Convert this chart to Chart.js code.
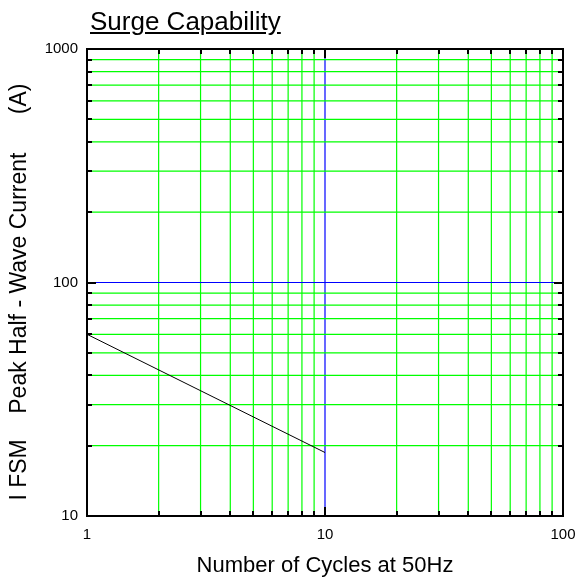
<!DOCTYPE html>
<html>
<head>
<meta charset="utf-8">
<script src="https://cdn.jsdelivr.net/npm/chart.js@4.4.1/dist/chart.umd.min.js"></script>
<style>
html, body { margin: 0; padding: 0; background: #fff; }
#wrap { position: relative; width: 581px; height: 581px; }
#title {
    position: absolute; left: 90px; top: 6px;
    font: 26px "Liberation Sans", Arial, sans-serif;
    text-decoration: underline; color: #000; white-space: nowrap;
}
</style>
</head>
<body>
<div id="wrap">
  <div id="title">Surge Capability</div>
  <canvas id="chart" width="581" height="581"></canvas>
</div>
<script>
// data
const cycles = [1, 10];
const surgeCurrent = [60, 18.7];

// tick positions and labels
const xTicks = [1, 2, 3, 4, 5, 6, 7, 8, 9, 10, 20, 30, 40, 50, 60, 70, 80, 90, 100];
const yTicks = [10, 20, 30, 40, 50, 60, 70, 80, 90, 100, 200, 300, 400, 500, 600, 700, 800, 900, 1000];
const xLabels = [1, 10, 100];
const yLabels = [10, 100, 1000];

const GREEN = '#00ff00';
const BLUE = '#0000ff';
const FONT = '"Liberation Sans", Arial, sans-serif';

// grid lines: green minor lines, blue at the middle decade
const gridPlugin = {
    id: 'grid',
    beforeDatasetsDraw(chart) {
        const ctx = chart.ctx;
        const a = chart.chartArea;
        const xs = chart.scales.x;
        const ys = chart.scales.y;
        ctx.save();
        ctx.lineWidth = 1.2;
        xTicks.forEach(v => {
            const px = xs.getPixelForValue(v);
            ctx.strokeStyle = v === 10 ? BLUE : GREEN;
            ctx.beginPath();
            ctx.moveTo(px, a.top);
            ctx.lineTo(px, a.bottom);
            ctx.stroke();
        });
        yTicks.forEach(v => {
            const py = ys.getPixelForValue(v);
            ctx.strokeStyle = v === 100 ? BLUE : GREEN;
            ctx.beginPath();
            ctx.moveTo(a.left, py);
            ctx.lineTo(a.right, py);
            ctx.stroke();
        });
        ctx.restore();
    }
};

// frame on all four sides with inward tick marks
const framePlugin = {
    id: 'frame',
    afterDraw(chart) {
        const ctx = chart.ctx;
        const a = chart.chartArea;
        const xs = chart.scales.x;
        const ys = chart.scales.y;
        ctx.save();
        ctx.strokeStyle = '#000';
        ctx.lineWidth = 2;
        xTicks.forEach(v => {
            const px = Math.round(xs.getPixelForValue(v));
            const len = xLabels.includes(v) ? 9 : 5;
            ctx.beginPath();
            ctx.moveTo(px, a.bottom);
            ctx.lineTo(px, a.bottom - len);
            ctx.moveTo(px, a.top);
            ctx.lineTo(px, a.top + len);
            ctx.stroke();
        });
        yTicks.forEach(v => {
            const py = Math.round(ys.getPixelForValue(v));
            const len = yLabels.includes(v) ? 9 : 5;
            ctx.beginPath();
            ctx.moveTo(a.left, py);
            ctx.lineTo(a.left + len, py);
            ctx.moveTo(a.right, py);
            ctx.lineTo(a.right - len, py);
            ctx.stroke();
        });
        ctx.strokeRect(a.left, a.top, a.right - a.left, a.bottom - a.top);
        ctx.restore();
    }
};

new Chart(document.getElementById('chart'), {
    type: 'line',
    data: {
        datasets: [{
            data: cycles.map((c, i) => ({ x: c, y: surgeCurrent[i] })),
            borderColor: '#000',
            borderWidth: 1,
            pointRadius: 0,
            fill: false
        }]
    },
    options: {
        responsive: false,
        animation: false,
        layout: { padding: { top: 49, right: 18, left: 0, bottom: 0 } },
        plugins: { legend: { display: false }, tooltip: { enabled: false } },
        scales: {
            x: {
                type: 'logarithmic',
                min: 1,
                max: 100,
                afterBuildTicks: (scale) => { scale.ticks = xTicks.map(v => ({ value: v })); },
                afterFit: (scale) => {
                    scale.height = 65;
                    scale.paddingLeft = 0;
                    scale.paddingRight = 0;
                },
                ticks: {
                    autoSkip: false,
                    maxRotation: 0,
                    padding: 10,
                    color: '#000',
                    font: { family: FONT, size: 15 },
                    callback: (v) => xLabels.includes(v) ? String(v) : ''
                },
                grid: { display: false, drawTicks: false },
                border: { display: false },
                title: {
                    display: true,
                    text: 'Number of Cycles at 50Hz',
                    color: '#000',
                    font: { family: FONT, size: 22 },
                    padding: { top: 0, bottom: 2 }
                }
            },
            y: {
                type: 'logarithmic',
                min: 10,
                max: 1000,
                afterBuildTicks: (scale) => { scale.ticks = yTicks.map(v => ({ value: v })); },
                afterFit: (scale) => {
                    scale.width = 87;
                    scale.paddingTop = 0;
                    scale.paddingBottom = 0;
                },
                ticks: {
                    autoSkip: false,
                    padding: 9,
                    color: '#000',
                    font: { family: FONT, size: 15 },
                    callback: (v) => yLabels.includes(v) ? String(v) : ''
                },
                grid: { display: false, drawTicks: false },
                border: { display: false },
                title: {
                    display: true,
                    text: 'I FSM    Peak Half - Wave Current      (A)   ',
                    color: '#000',
                    font: { family: FONT, size: 23 },
                    padding: { top: 6, bottom: 0 }
                }
            }
        }
    },
    plugins: [gridPlugin, framePlugin]
});
</script>
</body>
</html>
